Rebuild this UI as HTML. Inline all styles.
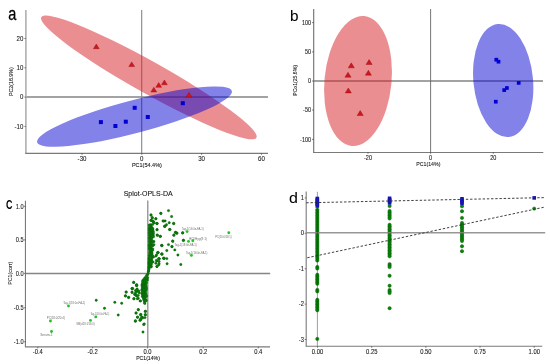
<!DOCTYPE html>
<html><head><meta charset="utf-8"><style>
html,body{margin:0;padding:0;background:#fff;width:550px;height:364px;overflow:hidden;}
svg{display:block;will-change:transform;}
text{font-family:"Liberation Sans",sans-serif;}
</style></head><body>
<svg width="550" height="364" viewBox="0 0 550 364">
<rect width="550" height="364" fill="#fff"/>
<text transform="translate(8.2 19.8) scale(0.8 1)" font-size="18.2" text-anchor="start" font-family="&quot;Liberation Sans&quot;, sans-serif" font-weight="normal" fill="#000" stroke="#000" stroke-width="0.25">a</text>
<line x1="26" y1="97.0" x2="268" y2="97.0" stroke="#858585" stroke-width="1.4"/>
<line x1="141.7" y1="10" x2="141.7" y2="153" stroke="#858585" stroke-width="1.1"/>
<ellipse cx="148.85" cy="77.45" rx="123.3" ry="15.9" transform="rotate(29.27 148.85 77.45)" fill="rgb(213,30,37)" fill-opacity="0.5"/>
<ellipse cx="134.5" cy="116.6" rx="100.7" ry="16.5" transform="rotate(-14.75 134.5 116.6)" fill="rgb(5,5,209)" fill-opacity="0.5"/>
<line x1="25.9" y1="10" x2="25.9" y2="153.3" stroke="#aaa" stroke-width="1.5"/>
<line x1="25.2" y1="153.35" x2="268" y2="153.35" stroke="#7a7a7a" stroke-width="1.1"/>
<path d="M96.30 44.00 L99.20 48.70 L93.40 48.70 Z" fill="#d0161e" stroke="#8a0c10" stroke-width="0.4"/>
<path d="M131.70 61.90 L134.60 66.60 L128.80 66.60 Z" fill="#d0161e" stroke="#8a0c10" stroke-width="0.4"/>
<path d="M153.80 87.30 L156.70 92.00 L150.90 92.00 Z" fill="#d0161e" stroke="#8a0c10" stroke-width="0.4"/>
<path d="M158.70 82.60 L161.60 87.30 L155.80 87.30 Z" fill="#d0161e" stroke="#8a0c10" stroke-width="0.4"/>
<path d="M164.40 80.00 L167.30 84.70 L161.50 84.70 Z" fill="#d0161e" stroke="#8a0c10" stroke-width="0.4"/>
<path d="M189.00 92.30 L191.90 97.00 L186.10 97.00 Z" fill="#d0161e" stroke="#8a0c10" stroke-width="0.4"/>
<rect x="98.90" y="120.10" width="4.0" height="4.0" fill="#0000d4"/>
<rect x="113.40" y="124.00" width="4.0" height="4.0" fill="#0000d4"/>
<rect x="123.80" y="119.70" width="4.0" height="4.0" fill="#0000d4"/>
<rect x="132.70" y="105.80" width="4.0" height="4.0" fill="#0000d4"/>
<rect x="145.80" y="115.00" width="4.0" height="4.0" fill="#0000d4"/>
<rect x="180.80" y="101.20" width="4.0" height="4.0" fill="#0000d4"/>
<text transform="translate(23.4 40.85) scale(0.9 1)" font-size="6.8" text-anchor="end" font-family="&quot;Liberation Sans&quot;, sans-serif" font-weight="normal" fill="#1a1a1a" stroke="#1a1a1a" stroke-width="0.1">20</text>
<line x1="24.4" y1="38.5" x2="25.9" y2="38.5" stroke="#333" stroke-width="0.6"/>
<text transform="translate(23.4 70.14999999999999) scale(0.9 1)" font-size="6.8" text-anchor="end" font-family="&quot;Liberation Sans&quot;, sans-serif" font-weight="normal" fill="#1a1a1a" stroke="#1a1a1a" stroke-width="0.1">10</text>
<line x1="24.4" y1="67.8" x2="25.9" y2="67.8" stroke="#333" stroke-width="0.6"/>
<text transform="translate(23.4 99.44999999999999) scale(0.9 1)" font-size="6.8" text-anchor="end" font-family="&quot;Liberation Sans&quot;, sans-serif" font-weight="normal" fill="#1a1a1a" stroke="#1a1a1a" stroke-width="0.1">0</text>
<line x1="24.4" y1="97.1" x2="25.9" y2="97.1" stroke="#333" stroke-width="0.6"/>
<text transform="translate(23.4 128.75) scale(0.9 1)" font-size="6.8" text-anchor="end" font-family="&quot;Liberation Sans&quot;, sans-serif" font-weight="normal" fill="#1a1a1a" stroke="#1a1a1a" stroke-width="0.1">-10</text>
<line x1="24.4" y1="126.4" x2="25.9" y2="126.4" stroke="#333" stroke-width="0.6"/>
<text transform="translate(82.0 160.7) scale(0.9 1)" font-size="6.8" text-anchor="middle" font-family="&quot;Liberation Sans&quot;, sans-serif" font-weight="normal" fill="#1a1a1a" stroke="#1a1a1a" stroke-width="0.1">-30</text>
<line x1="82.0" y1="153.35" x2="82.0" y2="154.9" stroke="#333" stroke-width="0.6"/>
<text transform="translate(141.8 160.7) scale(0.9 1)" font-size="6.8" text-anchor="middle" font-family="&quot;Liberation Sans&quot;, sans-serif" font-weight="normal" fill="#1a1a1a" stroke="#1a1a1a" stroke-width="0.1">0</text>
<line x1="141.8" y1="153.35" x2="141.8" y2="154.9" stroke="#333" stroke-width="0.6"/>
<text transform="translate(201.6 160.7) scale(0.9 1)" font-size="6.8" text-anchor="middle" font-family="&quot;Liberation Sans&quot;, sans-serif" font-weight="normal" fill="#1a1a1a" stroke="#1a1a1a" stroke-width="0.1">30</text>
<line x1="201.6" y1="153.35" x2="201.6" y2="154.9" stroke="#333" stroke-width="0.6"/>
<text transform="translate(261.4 160.7) scale(0.9 1)" font-size="6.8" text-anchor="middle" font-family="&quot;Liberation Sans&quot;, sans-serif" font-weight="normal" fill="#1a1a1a" stroke="#1a1a1a" stroke-width="0.1">60</text>
<line x1="261.4" y1="153.35" x2="261.4" y2="154.9" stroke="#333" stroke-width="0.6"/>
<text transform="translate(146.9 166.9) scale(0.92 1)" font-size="6.0" text-anchor="middle" font-family="&quot;Liberation Sans&quot;, sans-serif" font-weight="normal" fill="#1a1a1a" stroke="#1a1a1a" stroke-width="0.1">PC1(54.4%)</text>
<text transform="translate(12.6 81.65) rotate(-90) scale(0.96 1)" font-size="5.5" text-anchor="middle" font-family="&quot;Liberation Sans&quot;, sans-serif" font-weight="normal" fill="#1a1a1a" stroke="#1a1a1a" stroke-width="0.1">PC2(16.9%)</text>
<text transform="translate(290.0 20.85) scale(1.0 1)" font-size="15.3" text-anchor="start" font-family="&quot;Liberation Sans&quot;, sans-serif" font-weight="normal" fill="#000" stroke="#000" stroke-width="0.08">b</text>
<line x1="314" y1="81" x2="543" y2="81" stroke="#858585" stroke-width="1.4"/>
<line x1="430.6" y1="9" x2="430.6" y2="152.4" stroke="#666" stroke-width="0.9"/>
<ellipse cx="358" cy="81.0" rx="33.5" ry="65.3" transform="rotate(5.6 358 81.0)" fill="rgb(213,30,37)" fill-opacity="0.5"/>
<ellipse cx="503.2" cy="80.5" rx="29.8" ry="56.8" transform="rotate(-5.5 503.2 80.5)" fill="rgb(5,5,209)" fill-opacity="0.5"/>
<line x1="313.7" y1="9" x2="313.7" y2="152.9" stroke="#6e6e6e" stroke-width="1.1"/>
<line x1="313.2" y1="152.5" x2="543.3" y2="152.5" stroke="#7a7a7a" stroke-width="1.1"/>
<path d="M351.30 62.87 L354.35 67.80 L348.25 67.80 Z" fill="#d0161e" stroke="#8a0c10" stroke-width="0.4"/>
<path d="M369.10 59.57 L372.15 64.50 L366.06 64.50 Z" fill="#d0161e" stroke="#8a0c10" stroke-width="0.4"/>
<path d="M348.00 72.27 L351.05 77.20 L344.95 77.20 Z" fill="#d0161e" stroke="#8a0c10" stroke-width="0.4"/>
<path d="M368.40 70.27 L371.44 75.20 L365.35 75.20 Z" fill="#d0161e" stroke="#8a0c10" stroke-width="0.4"/>
<path d="M348.30 87.97 L351.35 92.91 L345.25 92.91 Z" fill="#d0161e" stroke="#8a0c10" stroke-width="0.4"/>
<path d="M360.20 110.57 L363.25 115.50 L357.15 115.50 Z" fill="#d0161e" stroke="#8a0c10" stroke-width="0.4"/>
<rect x="494.45" y="57.85" width="3.7" height="3.7" fill="#0000d4"/>
<rect x="496.65" y="59.85" width="3.7" height="3.7" fill="#0000d4"/>
<rect x="516.85" y="81.05" width="3.7" height="3.7" fill="#0000d4"/>
<rect x="505.05" y="86.15" width="3.7" height="3.7" fill="#0000d4"/>
<rect x="502.35" y="88.25" width="3.7" height="3.7" fill="#0000d4"/>
<rect x="493.95" y="99.85" width="3.7" height="3.7" fill="#0000d4"/>
<text transform="translate(311 24.950000000000003) scale(0.83 1)" font-size="6.6" text-anchor="end" font-family="&quot;Liberation Sans&quot;, sans-serif" font-weight="normal" fill="#1a1a1a" stroke="#1a1a1a" stroke-width="0.1">100</text>
<line x1="312" y1="22.6" x2="313.7" y2="22.6" stroke="#333" stroke-width="0.6"/>
<text transform="translate(311 54.25) scale(0.83 1)" font-size="6.6" text-anchor="end" font-family="&quot;Liberation Sans&quot;, sans-serif" font-weight="normal" fill="#1a1a1a" stroke="#1a1a1a" stroke-width="0.1">50</text>
<line x1="312" y1="51.9" x2="313.7" y2="51.9" stroke="#333" stroke-width="0.6"/>
<text transform="translate(311 83.35) scale(0.83 1)" font-size="6.6" text-anchor="end" font-family="&quot;Liberation Sans&quot;, sans-serif" font-weight="normal" fill="#1a1a1a" stroke="#1a1a1a" stroke-width="0.1">0</text>
<line x1="312" y1="81.0" x2="313.7" y2="81.0" stroke="#333" stroke-width="0.6"/>
<text transform="translate(311 112.35) scale(0.83 1)" font-size="6.6" text-anchor="end" font-family="&quot;Liberation Sans&quot;, sans-serif" font-weight="normal" fill="#1a1a1a" stroke="#1a1a1a" stroke-width="0.1">-50</text>
<line x1="312" y1="110" x2="313.7" y2="110" stroke="#333" stroke-width="0.6"/>
<text transform="translate(311 141.75) scale(0.83 1)" font-size="6.6" text-anchor="end" font-family="&quot;Liberation Sans&quot;, sans-serif" font-weight="normal" fill="#1a1a1a" stroke="#1a1a1a" stroke-width="0.1">-100</text>
<line x1="312" y1="139.4" x2="313.7" y2="139.4" stroke="#333" stroke-width="0.6"/>
<text transform="translate(368 159.8) scale(0.83 1)" font-size="6.6" text-anchor="middle" font-family="&quot;Liberation Sans&quot;, sans-serif" font-weight="normal" fill="#1a1a1a" stroke="#1a1a1a" stroke-width="0.1">-20</text>
<line x1="368" y1="152.2" x2="368" y2="153.8" stroke="#333" stroke-width="0.6"/>
<text transform="translate(430.6 159.8) scale(0.83 1)" font-size="6.6" text-anchor="middle" font-family="&quot;Liberation Sans&quot;, sans-serif" font-weight="normal" fill="#1a1a1a" stroke="#1a1a1a" stroke-width="0.1">0</text>
<line x1="430.6" y1="152.2" x2="430.6" y2="153.8" stroke="#333" stroke-width="0.6"/>
<text transform="translate(493.3 159.8) scale(0.83 1)" font-size="6.6" text-anchor="middle" font-family="&quot;Liberation Sans&quot;, sans-serif" font-weight="normal" fill="#1a1a1a" stroke="#1a1a1a" stroke-width="0.1">20</text>
<line x1="493.3" y1="152.2" x2="493.3" y2="153.8" stroke="#333" stroke-width="0.6"/>
<text transform="translate(428.3 166.0) scale(0.89 1)" font-size="5.9" text-anchor="middle" font-family="&quot;Liberation Sans&quot;, sans-serif" font-weight="normal" fill="#1a1a1a" stroke="#1a1a1a" stroke-width="0.1">PC1(14%)</text>
<text transform="translate(296.6 80.4) rotate(-90) scale(0.917 1)" font-size="5.6" text-anchor="middle" font-family="&quot;Liberation Sans&quot;, sans-serif" font-weight="normal" fill="#1a1a1a" stroke="#1a1a1a" stroke-width="0.1">PCo1(25.6%)</text>
<text transform="translate(6.0 208.7) scale(0.75 1)" font-size="11.9" text-anchor="start" font-family="&quot;Liberation Sans&quot;, sans-serif" font-weight="bold" fill="#000">C</text>
<text transform="translate(148.2 196.2) scale(1.0 1)" font-size="7" text-anchor="middle" font-family="&quot;Liberation Sans&quot;, sans-serif" font-weight="normal" fill="#111" stroke="#111" stroke-width="0.08">Splot-OPLS-DA</text>
<line x1="25.5" y1="273.45" x2="270.2" y2="273.45" stroke="#858585" stroke-width="1.45"/>
<line x1="147.8" y1="200.5" x2="147.8" y2="346.7" stroke="#858585" stroke-width="1.2"/>
<line x1="25.45" y1="200.8" x2="25.45" y2="346.7" stroke="#7a7a7a" stroke-width="1.1"/>
<line x1="24.9" y1="346.85" x2="270" y2="346.85" stroke="#7a7a7a" stroke-width="1.1"/>
<text transform="translate(23.6 208.6) scale(0.87 1)" font-size="6.5" text-anchor="end" font-family="&quot;Liberation Sans&quot;, sans-serif" font-weight="normal" fill="#1a1a1a" stroke="#1a1a1a" stroke-width="0.1">1.0</text>
<line x1="24.0" y1="206.4" x2="25.45" y2="206.4" stroke="#333" stroke-width="0.6"/>
<text transform="translate(23.6 242.1) scale(0.87 1)" font-size="6.5" text-anchor="end" font-family="&quot;Liberation Sans&quot;, sans-serif" font-weight="normal" fill="#1a1a1a" stroke="#1a1a1a" stroke-width="0.1">0.5</text>
<line x1="24.0" y1="239.9" x2="25.45" y2="239.9" stroke="#333" stroke-width="0.6"/>
<text transform="translate(23.6 275.59999999999997) scale(0.87 1)" font-size="6.5" text-anchor="end" font-family="&quot;Liberation Sans&quot;, sans-serif" font-weight="normal" fill="#1a1a1a" stroke="#1a1a1a" stroke-width="0.1">0.0</text>
<line x1="24.0" y1="273.4" x2="25.45" y2="273.4" stroke="#333" stroke-width="0.6"/>
<text transform="translate(23.6 310.0) scale(0.87 1)" font-size="6.5" text-anchor="end" font-family="&quot;Liberation Sans&quot;, sans-serif" font-weight="normal" fill="#1a1a1a" stroke="#1a1a1a" stroke-width="0.1">-0.5</text>
<line x1="24.0" y1="307.8" x2="25.45" y2="307.8" stroke="#333" stroke-width="0.6"/>
<text transform="translate(23.6 344.0) scale(0.87 1)" font-size="6.5" text-anchor="end" font-family="&quot;Liberation Sans&quot;, sans-serif" font-weight="normal" fill="#1a1a1a" stroke="#1a1a1a" stroke-width="0.1">-1.0</text>
<line x1="24.0" y1="341.8" x2="25.45" y2="341.8" stroke="#333" stroke-width="0.6"/>
<text transform="translate(37.8 353.8) scale(0.87 1)" font-size="6.7" text-anchor="middle" font-family="&quot;Liberation Sans&quot;, sans-serif" font-weight="normal" fill="#1a1a1a" stroke="#1a1a1a" stroke-width="0.1">-0.4</text>
<line x1="37.8" y1="346.85" x2="37.8" y2="348.4" stroke="#333" stroke-width="0.6"/>
<text transform="translate(92.6 353.8) scale(0.87 1)" font-size="6.7" text-anchor="middle" font-family="&quot;Liberation Sans&quot;, sans-serif" font-weight="normal" fill="#1a1a1a" stroke="#1a1a1a" stroke-width="0.1">-0.2</text>
<line x1="92.6" y1="346.85" x2="92.6" y2="348.4" stroke="#333" stroke-width="0.6"/>
<text transform="translate(147.5 353.8) scale(0.87 1)" font-size="6.7" text-anchor="middle" font-family="&quot;Liberation Sans&quot;, sans-serif" font-weight="normal" fill="#1a1a1a" stroke="#1a1a1a" stroke-width="0.1">0.0</text>
<line x1="147.5" y1="346.85" x2="147.5" y2="348.4" stroke="#333" stroke-width="0.6"/>
<text transform="translate(203.2 353.8) scale(0.87 1)" font-size="6.7" text-anchor="middle" font-family="&quot;Liberation Sans&quot;, sans-serif" font-weight="normal" fill="#1a1a1a" stroke="#1a1a1a" stroke-width="0.1">0.2</text>
<line x1="203.2" y1="346.85" x2="203.2" y2="348.4" stroke="#333" stroke-width="0.6"/>
<text transform="translate(258.3 353.8) scale(0.87 1)" font-size="6.7" text-anchor="middle" font-family="&quot;Liberation Sans&quot;, sans-serif" font-weight="normal" fill="#1a1a1a" stroke="#1a1a1a" stroke-width="0.1">0.4</text>
<line x1="258.3" y1="346.85" x2="258.3" y2="348.4" stroke="#333" stroke-width="0.6"/>
<text transform="translate(148 360.4) scale(0.92 1)" font-size="5.6" text-anchor="middle" font-family="&quot;Liberation Sans&quot;, sans-serif" font-weight="normal" fill="#1a1a1a" stroke="#1a1a1a" stroke-width="0.1">PC1(14%)</text>
<text transform="translate(11.7 273.3) rotate(-90) scale(1.0 1)" font-size="5.3" text-anchor="middle" font-family="&quot;Liberation Sans&quot;, sans-serif" font-weight="normal" fill="#1a1a1a" stroke="#1a1a1a" stroke-width="0.05">PC1(corr)</text>
<circle cx="168.5" cy="210.6" r="1.20" fill="#068006" stroke="#0b550b" stroke-width="0.35"/>
<circle cx="160.8" cy="213.3" r="1.20" fill="#068006" stroke="#0b550b" stroke-width="0.35"/>
<circle cx="171.6" cy="216.5" r="1.20" fill="#068006" stroke="#0b550b" stroke-width="0.35"/>
<circle cx="155.8" cy="218.8" r="1.20" fill="#068006" stroke="#0b550b" stroke-width="0.35"/>
<circle cx="163" cy="220.9" r="1.20" fill="#068006" stroke="#0b550b" stroke-width="0.35"/>
<circle cx="165.1" cy="220.9" r="1.20" fill="#068006" stroke="#0b550b" stroke-width="0.35"/>
<circle cx="156.9" cy="223.4" r="1.20" fill="#068006" stroke="#0b550b" stroke-width="0.35"/>
<circle cx="169.2" cy="222.7" r="1.20" fill="#068006" stroke="#0b550b" stroke-width="0.35"/>
<circle cx="173.6" cy="223.4" r="1.20" fill="#068006" stroke="#0b550b" stroke-width="0.35"/>
<circle cx="166.5" cy="224.7" r="1.20" fill="#068006" stroke="#0b550b" stroke-width="0.35"/>
<circle cx="165.1" cy="226.1" r="1.20" fill="#068006" stroke="#0b550b" stroke-width="0.35"/>
<circle cx="157.1" cy="229.5" r="1.20" fill="#068006" stroke="#0b550b" stroke-width="0.35"/>
<circle cx="169.5" cy="229.5" r="1.20" fill="#068006" stroke="#0b550b" stroke-width="0.35"/>
<circle cx="175.4" cy="232.3" r="1.20" fill="#068006" stroke="#0b550b" stroke-width="0.35"/>
<circle cx="176.8" cy="233.2" r="1.20" fill="#068006" stroke="#0b550b" stroke-width="0.35"/>
<circle cx="182.6" cy="233" r="1.20" fill="#068006" stroke="#0b550b" stroke-width="0.35"/>
<circle cx="174" cy="235" r="1.20" fill="#068006" stroke="#0b550b" stroke-width="0.35"/>
<circle cx="157.1" cy="235" r="1.20" fill="#068006" stroke="#0b550b" stroke-width="0.35"/>
<circle cx="160.3" cy="236.4" r="1.20" fill="#068006" stroke="#0b550b" stroke-width="0.35"/>
<circle cx="183.4" cy="240.2" r="1.20" fill="#068006" stroke="#0b550b" stroke-width="0.35"/>
<circle cx="172.7" cy="240.9" r="1.20" fill="#068006" stroke="#0b550b" stroke-width="0.35"/>
<circle cx="168.5" cy="244.6" r="1.20" fill="#068006" stroke="#0b550b" stroke-width="0.35"/>
<circle cx="161.7" cy="245.3" r="1.20" fill="#068006" stroke="#0b550b" stroke-width="0.35"/>
<circle cx="172" cy="246.7" r="1.20" fill="#068006" stroke="#0b550b" stroke-width="0.35"/>
<circle cx="151" cy="215" r="1.20" fill="#068006" stroke="#0b550b" stroke-width="0.35"/>
<circle cx="152.2" cy="217.7" r="1.20" fill="#068006" stroke="#0b550b" stroke-width="0.35"/>
<circle cx="151.1" cy="220.2" r="1.20" fill="#068006" stroke="#0b550b" stroke-width="0.35"/>
<circle cx="152.8" cy="221" r="1.20" fill="#068006" stroke="#0b550b" stroke-width="0.35"/>
<circle cx="153.6" cy="222.1" r="1.20" fill="#068006" stroke="#0b550b" stroke-width="0.35"/>
<circle cx="164.7" cy="226.2" r="1.20" fill="#068006" stroke="#0b550b" stroke-width="0.35"/>
<circle cx="161.8" cy="245.6" r="1.20" fill="#068006" stroke="#0b550b" stroke-width="0.35"/>
<circle cx="158.1" cy="252.6" r="1.20" fill="#068006" stroke="#0b550b" stroke-width="0.35"/>
<circle cx="161.8" cy="253.9" r="1.20" fill="#068006" stroke="#0b550b" stroke-width="0.35"/>
<circle cx="157.5" cy="252.7" r="1.20" fill="#068006" stroke="#0b550b" stroke-width="0.35"/>
<circle cx="161.9" cy="254.2" r="1.20" fill="#068006" stroke="#0b550b" stroke-width="0.35"/>
<circle cx="166.8" cy="250.5" r="1.20" fill="#068006" stroke="#0b550b" stroke-width="0.35"/>
<circle cx="163.5" cy="258.2" r="1.20" fill="#068006" stroke="#0b550b" stroke-width="0.35"/>
<circle cx="166.8" cy="258.6" r="1.20" fill="#068006" stroke="#0b550b" stroke-width="0.35"/>
<circle cx="167.1" cy="263.7" r="1.20" fill="#068006" stroke="#0b550b" stroke-width="0.35"/>
<circle cx="156.4" cy="260.4" r="1.20" fill="#068006" stroke="#0b550b" stroke-width="0.35"/>
<circle cx="159.1" cy="258.8" r="1.20" fill="#068006" stroke="#0b550b" stroke-width="0.35"/>
<circle cx="159.1" cy="261.5" r="1.20" fill="#068006" stroke="#0b550b" stroke-width="0.35"/>
<circle cx="156.9" cy="266.5" r="1.20" fill="#068006" stroke="#0b550b" stroke-width="0.35"/>
<circle cx="159.1" cy="263.7" r="1.20" fill="#068006" stroke="#0b550b" stroke-width="0.35"/>
<circle cx="172.8" cy="241.4" r="1.20" fill="#068006" stroke="#0b550b" stroke-width="0.35"/>
<circle cx="171.9" cy="246.5" r="1.20" fill="#068006" stroke="#0b550b" stroke-width="0.35"/>
<circle cx="174.8" cy="249.9" r="1.20" fill="#068006" stroke="#0b550b" stroke-width="0.35"/>
<circle cx="177.9" cy="255" r="1.20" fill="#068006" stroke="#0b550b" stroke-width="0.35"/>
<circle cx="173.8" cy="223.6" r="1.20" fill="#068006" stroke="#0b550b" stroke-width="0.35"/>
<circle cx="170" cy="229.5" r="1.20" fill="#068006" stroke="#0b550b" stroke-width="0.35"/>
<circle cx="175.7" cy="232.5" r="1.20" fill="#068006" stroke="#0b550b" stroke-width="0.35"/>
<circle cx="177" cy="233.1" r="1.20" fill="#068006" stroke="#0b550b" stroke-width="0.35"/>
<circle cx="182.7" cy="232.7" r="1.20" fill="#068006" stroke="#0b550b" stroke-width="0.35"/>
<circle cx="173.8" cy="235.3" r="1.20" fill="#068006" stroke="#0b550b" stroke-width="0.35"/>
<circle cx="183.4" cy="240.4" r="1.20" fill="#068006" stroke="#0b550b" stroke-width="0.35"/>
<circle cx="133.8" cy="282.4" r="1.20" fill="#068006" stroke="#0b550b" stroke-width="0.35"/>
<circle cx="136.6" cy="285.2" r="1.20" fill="#068006" stroke="#0b550b" stroke-width="0.35"/>
<circle cx="132.7" cy="288.5" r="1.20" fill="#068006" stroke="#0b550b" stroke-width="0.35"/>
<circle cx="137.1" cy="289" r="1.20" fill="#068006" stroke="#0b550b" stroke-width="0.35"/>
<circle cx="133.6" cy="282.4" r="1.20" fill="#068006" stroke="#0b550b" stroke-width="0.35"/>
<circle cx="136.8" cy="285.4" r="1.20" fill="#068006" stroke="#0b550b" stroke-width="0.35"/>
<circle cx="132" cy="288.5" r="1.20" fill="#068006" stroke="#0b550b" stroke-width="0.35"/>
<circle cx="126.2" cy="292" r="1.20" fill="#068006" stroke="#0b550b" stroke-width="0.35"/>
<circle cx="132" cy="292" r="1.20" fill="#068006" stroke="#0b550b" stroke-width="0.35"/>
<circle cx="135.4" cy="290.6" r="1.20" fill="#068006" stroke="#0b550b" stroke-width="0.35"/>
<circle cx="138.2" cy="291.3" r="1.20" fill="#068006" stroke="#0b550b" stroke-width="0.35"/>
<circle cx="134.7" cy="294.5" r="1.20" fill="#068006" stroke="#0b550b" stroke-width="0.35"/>
<circle cx="136.8" cy="295.8" r="1.20" fill="#068006" stroke="#0b550b" stroke-width="0.35"/>
<circle cx="125.4" cy="295.8" r="1.20" fill="#068006" stroke="#0b550b" stroke-width="0.35"/>
<circle cx="128.5" cy="297.5" r="1.20" fill="#068006" stroke="#0b550b" stroke-width="0.35"/>
<circle cx="134" cy="298.8" r="1.20" fill="#068006" stroke="#0b550b" stroke-width="0.35"/>
<circle cx="138.2" cy="298.2" r="1.20" fill="#068006" stroke="#0b550b" stroke-width="0.35"/>
<circle cx="140.2" cy="300.9" r="1.20" fill="#068006" stroke="#0b550b" stroke-width="0.35"/>
<circle cx="114.8" cy="302.3" r="1.20" fill="#068006" stroke="#0b550b" stroke-width="0.35"/>
<circle cx="121.7" cy="303.2" r="1.20" fill="#068006" stroke="#0b550b" stroke-width="0.35"/>
<circle cx="118.2" cy="315" r="1.20" fill="#068006" stroke="#0b550b" stroke-width="0.35"/>
<circle cx="138.4" cy="309.6" r="1.20" fill="#068006" stroke="#0b550b" stroke-width="0.35"/>
<circle cx="136.1" cy="313" r="1.20" fill="#068006" stroke="#0b550b" stroke-width="0.35"/>
<circle cx="140.9" cy="314.4" r="1.20" fill="#068006" stroke="#0b550b" stroke-width="0.35"/>
<circle cx="145.4" cy="311.3" r="1.20" fill="#068006" stroke="#0b550b" stroke-width="0.35"/>
<circle cx="145.4" cy="314.8" r="1.20" fill="#068006" stroke="#0b550b" stroke-width="0.35"/>
<circle cx="137.5" cy="317.2" r="1.20" fill="#068006" stroke="#0b550b" stroke-width="0.35"/>
<circle cx="142.3" cy="317.2" r="1.20" fill="#068006" stroke="#0b550b" stroke-width="0.35"/>
<circle cx="140.5" cy="319.2" r="1.20" fill="#068006" stroke="#0b550b" stroke-width="0.35"/>
<circle cx="139.9" cy="320.3" r="1.20" fill="#068006" stroke="#0b550b" stroke-width="0.35"/>
<circle cx="145" cy="317.6" r="1.20" fill="#068006" stroke="#0b550b" stroke-width="0.35"/>
<circle cx="135.4" cy="321.3" r="1.20" fill="#068006" stroke="#0b550b" stroke-width="0.35"/>
<circle cx="143.7" cy="324.5" r="1.20" fill="#068006" stroke="#0b550b" stroke-width="0.35"/>
<circle cx="143" cy="332" r="1.20" fill="#068006" stroke="#0b550b" stroke-width="0.35"/>
<circle cx="96.2" cy="300.2" r="1.20" fill="#068006" stroke="#0b550b" stroke-width="0.35"/>
<circle cx="104.5" cy="308.2" r="1.20" fill="#068006" stroke="#0b550b" stroke-width="0.35"/>
<circle cx="180.8" cy="264.5" r="1.20" fill="#068006" stroke="#0b550b" stroke-width="0.35"/>
<circle cx="149.4" cy="225.0" r="1.20" fill="#068006" stroke="#0b550b" stroke-width="0.35"/>
<circle cx="150.8" cy="224.8" r="1.20" fill="#068006" stroke="#0b550b" stroke-width="0.35"/>
<circle cx="152.6" cy="224.4" r="1.20" fill="#068006" stroke="#0b550b" stroke-width="0.35"/>
<circle cx="149.5" cy="225.6" r="1.20" fill="#068006" stroke="#0b550b" stroke-width="0.35"/>
<circle cx="151.0" cy="226.0" r="1.20" fill="#068006" stroke="#0b550b" stroke-width="0.35"/>
<circle cx="149.4" cy="227.4" r="1.20" fill="#068006" stroke="#0b550b" stroke-width="0.35"/>
<circle cx="151.8" cy="227.4" r="1.20" fill="#068006" stroke="#0b550b" stroke-width="0.35"/>
<circle cx="149.3" cy="228.9" r="1.20" fill="#068006" stroke="#0b550b" stroke-width="0.35"/>
<circle cx="151.0" cy="228.2" r="1.20" fill="#068006" stroke="#0b550b" stroke-width="0.35"/>
<circle cx="152.6" cy="228.4" r="1.20" fill="#068006" stroke="#0b550b" stroke-width="0.35"/>
<circle cx="149.5" cy="229.9" r="1.20" fill="#068006" stroke="#0b550b" stroke-width="0.35"/>
<circle cx="151.3" cy="229.8" r="1.20" fill="#068006" stroke="#0b550b" stroke-width="0.35"/>
<circle cx="152.8" cy="229.4" r="1.20" fill="#068006" stroke="#0b550b" stroke-width="0.35"/>
<circle cx="149.5" cy="230.9" r="1.20" fill="#068006" stroke="#0b550b" stroke-width="0.35"/>
<circle cx="151.5" cy="231.0" r="1.20" fill="#068006" stroke="#0b550b" stroke-width="0.35"/>
<circle cx="153.2" cy="231.3" r="1.20" fill="#068006" stroke="#0b550b" stroke-width="0.35"/>
<circle cx="149.5" cy="232.3" r="1.20" fill="#068006" stroke="#0b550b" stroke-width="0.35"/>
<circle cx="151.9" cy="232.5" r="1.20" fill="#068006" stroke="#0b550b" stroke-width="0.35"/>
<circle cx="149.3" cy="233.5" r="1.20" fill="#068006" stroke="#0b550b" stroke-width="0.35"/>
<circle cx="151.6" cy="233.2" r="1.20" fill="#068006" stroke="#0b550b" stroke-width="0.35"/>
<circle cx="153.5" cy="233.1" r="1.20" fill="#068006" stroke="#0b550b" stroke-width="0.35"/>
<circle cx="149.5" cy="235.2" r="1.20" fill="#068006" stroke="#0b550b" stroke-width="0.35"/>
<circle cx="151.3" cy="235.0" r="1.20" fill="#068006" stroke="#0b550b" stroke-width="0.35"/>
<circle cx="153.3" cy="234.9" r="1.20" fill="#068006" stroke="#0b550b" stroke-width="0.35"/>
<circle cx="149.7" cy="236.0" r="1.20" fill="#068006" stroke="#0b550b" stroke-width="0.35"/>
<circle cx="151.8" cy="235.6" r="1.20" fill="#068006" stroke="#0b550b" stroke-width="0.35"/>
<circle cx="149.7" cy="237.6" r="1.20" fill="#068006" stroke="#0b550b" stroke-width="0.35"/>
<circle cx="151.4" cy="237.2" r="1.20" fill="#068006" stroke="#0b550b" stroke-width="0.35"/>
<circle cx="153.5" cy="236.8" r="1.20" fill="#068006" stroke="#0b550b" stroke-width="0.35"/>
<circle cx="149.3" cy="238.1" r="1.20" fill="#068006" stroke="#0b550b" stroke-width="0.35"/>
<circle cx="151.6" cy="238.2" r="1.20" fill="#068006" stroke="#0b550b" stroke-width="0.35"/>
<circle cx="149.6" cy="239.4" r="1.20" fill="#068006" stroke="#0b550b" stroke-width="0.35"/>
<circle cx="151.5" cy="239.8" r="1.20" fill="#068006" stroke="#0b550b" stroke-width="0.35"/>
<circle cx="149.6" cy="240.8" r="1.20" fill="#068006" stroke="#0b550b" stroke-width="0.35"/>
<circle cx="151.5" cy="240.9" r="1.20" fill="#068006" stroke="#0b550b" stroke-width="0.35"/>
<circle cx="153.9" cy="241.5" r="1.20" fill="#068006" stroke="#0b550b" stroke-width="0.35"/>
<circle cx="149.4" cy="242.0" r="1.20" fill="#068006" stroke="#0b550b" stroke-width="0.35"/>
<circle cx="151.3" cy="242.4" r="1.20" fill="#068006" stroke="#0b550b" stroke-width="0.35"/>
<circle cx="153.0" cy="241.8" r="1.20" fill="#068006" stroke="#0b550b" stroke-width="0.35"/>
<circle cx="149.5" cy="244.0" r="1.20" fill="#068006" stroke="#0b550b" stroke-width="0.35"/>
<circle cx="151.7" cy="243.6" r="1.20" fill="#068006" stroke="#0b550b" stroke-width="0.35"/>
<circle cx="149.3" cy="245.2" r="1.20" fill="#068006" stroke="#0b550b" stroke-width="0.35"/>
<circle cx="151.6" cy="245.2" r="1.20" fill="#068006" stroke="#0b550b" stroke-width="0.35"/>
<circle cx="153.9" cy="244.7" r="1.20" fill="#068006" stroke="#0b550b" stroke-width="0.35"/>
<circle cx="149.6" cy="245.6" r="1.20" fill="#068006" stroke="#0b550b" stroke-width="0.35"/>
<circle cx="151.0" cy="245.8" r="1.20" fill="#068006" stroke="#0b550b" stroke-width="0.35"/>
<circle cx="152.6" cy="245.9" r="1.20" fill="#068006" stroke="#0b550b" stroke-width="0.35"/>
<circle cx="149.4" cy="246.9" r="1.20" fill="#068006" stroke="#0b550b" stroke-width="0.35"/>
<circle cx="151.2" cy="246.8" r="1.20" fill="#068006" stroke="#0b550b" stroke-width="0.35"/>
<circle cx="149.4" cy="248.3" r="1.20" fill="#068006" stroke="#0b550b" stroke-width="0.35"/>
<circle cx="151.1" cy="248.4" r="1.20" fill="#068006" stroke="#0b550b" stroke-width="0.35"/>
<circle cx="152.7" cy="248.9" r="1.20" fill="#068006" stroke="#0b550b" stroke-width="0.35"/>
<circle cx="149.5" cy="249.4" r="1.20" fill="#068006" stroke="#0b550b" stroke-width="0.35"/>
<circle cx="151.0" cy="249.6" r="1.20" fill="#068006" stroke="#0b550b" stroke-width="0.35"/>
<circle cx="152.7" cy="250.1" r="1.20" fill="#068006" stroke="#0b550b" stroke-width="0.35"/>
<circle cx="149.7" cy="251.1" r="1.20" fill="#068006" stroke="#0b550b" stroke-width="0.35"/>
<circle cx="151.2" cy="251.1" r="1.20" fill="#068006" stroke="#0b550b" stroke-width="0.35"/>
<circle cx="149.7" cy="252.7" r="1.20" fill="#068006" stroke="#0b550b" stroke-width="0.35"/>
<circle cx="151.9" cy="252.1" r="1.20" fill="#068006" stroke="#0b550b" stroke-width="0.35"/>
<circle cx="149.6" cy="253.6" r="1.20" fill="#068006" stroke="#0b550b" stroke-width="0.35"/>
<circle cx="151.9" cy="253.4" r="1.20" fill="#068006" stroke="#0b550b" stroke-width="0.35"/>
<circle cx="149.6" cy="255.2" r="1.20" fill="#068006" stroke="#0b550b" stroke-width="0.35"/>
<circle cx="151.9" cy="255.1" r="1.20" fill="#068006" stroke="#0b550b" stroke-width="0.35"/>
<circle cx="149.4" cy="255.9" r="1.20" fill="#068006" stroke="#0b550b" stroke-width="0.35"/>
<circle cx="150.8" cy="255.6" r="1.20" fill="#068006" stroke="#0b550b" stroke-width="0.35"/>
<circle cx="152.5" cy="255.8" r="1.20" fill="#068006" stroke="#0b550b" stroke-width="0.35"/>
<circle cx="149.3" cy="257.7" r="1.20" fill="#068006" stroke="#0b550b" stroke-width="0.35"/>
<circle cx="151.7" cy="257.8" r="1.20" fill="#068006" stroke="#0b550b" stroke-width="0.35"/>
<circle cx="153.5" cy="257.0" r="1.20" fill="#068006" stroke="#0b550b" stroke-width="0.35"/>
<circle cx="149.1" cy="258.7" r="1.20" fill="#068006" stroke="#0b550b" stroke-width="0.35"/>
<circle cx="151.5" cy="258.9" r="1.20" fill="#068006" stroke="#0b550b" stroke-width="0.35"/>
<circle cx="149.2" cy="259.4" r="1.20" fill="#068006" stroke="#0b550b" stroke-width="0.35"/>
<circle cx="151.4" cy="260.2" r="1.20" fill="#068006" stroke="#0b550b" stroke-width="0.35"/>
<circle cx="149.1" cy="260.7" r="1.20" fill="#068006" stroke="#0b550b" stroke-width="0.35"/>
<circle cx="151.3" cy="260.9" r="1.20" fill="#068006" stroke="#0b550b" stroke-width="0.35"/>
<circle cx="149.0" cy="262.2" r="1.20" fill="#068006" stroke="#0b550b" stroke-width="0.35"/>
<circle cx="151.4" cy="262.5" r="1.20" fill="#068006" stroke="#0b550b" stroke-width="0.35"/>
<circle cx="153.0" cy="261.9" r="1.20" fill="#068006" stroke="#0b550b" stroke-width="0.35"/>
<circle cx="149.1" cy="263.2" r="1.20" fill="#068006" stroke="#0b550b" stroke-width="0.35"/>
<circle cx="151.4" cy="264.0" r="1.20" fill="#068006" stroke="#0b550b" stroke-width="0.35"/>
<circle cx="149.0" cy="264.4" r="1.20" fill="#068006" stroke="#0b550b" stroke-width="0.35"/>
<circle cx="150.4" cy="265.3" r="1.20" fill="#068006" stroke="#0b550b" stroke-width="0.35"/>
<circle cx="149.1" cy="266.0" r="1.20" fill="#068006" stroke="#0b550b" stroke-width="0.35"/>
<circle cx="151.4" cy="266.4" r="1.20" fill="#068006" stroke="#0b550b" stroke-width="0.35"/>
<circle cx="148.8" cy="267.0" r="1.20" fill="#068006" stroke="#0b550b" stroke-width="0.35"/>
<circle cx="150.8" cy="267.1" r="1.20" fill="#068006" stroke="#0b550b" stroke-width="0.35"/>
<circle cx="148.9" cy="268.4" r="1.20" fill="#068006" stroke="#0b550b" stroke-width="0.35"/>
<circle cx="148.9" cy="269.7" r="1.20" fill="#068006" stroke="#0b550b" stroke-width="0.35"/>
<circle cx="148.6" cy="271.1" r="1.20" fill="#068006" stroke="#0b550b" stroke-width="0.35"/>
<circle cx="148.3" cy="271.8" r="1.20" fill="#068006" stroke="#0b550b" stroke-width="0.35"/>
<circle cx="148.0" cy="273.8" r="1.20" fill="#068006" stroke="#0b550b" stroke-width="0.35"/>
<circle cx="147.2" cy="274.9" r="1.20" fill="#068006" stroke="#0b550b" stroke-width="0.35"/>
<circle cx="146.5" cy="275.8" r="1.20" fill="#068006" stroke="#0b550b" stroke-width="0.35"/>
<circle cx="145.4" cy="277.4" r="1.20" fill="#068006" stroke="#0b550b" stroke-width="0.35"/>
<circle cx="147.6" cy="277.7" r="1.20" fill="#068006" stroke="#0b550b" stroke-width="0.35"/>
<circle cx="144.3" cy="278.6" r="1.20" fill="#068006" stroke="#0b550b" stroke-width="0.35"/>
<circle cx="146.4" cy="278.5" r="1.20" fill="#068006" stroke="#0b550b" stroke-width="0.35"/>
<circle cx="143.4" cy="280.0" r="1.20" fill="#068006" stroke="#0b550b" stroke-width="0.35"/>
<circle cx="145.7" cy="280.2" r="1.20" fill="#068006" stroke="#0b550b" stroke-width="0.35"/>
<circle cx="147.4" cy="279.9" r="1.20" fill="#068006" stroke="#0b550b" stroke-width="0.35"/>
<circle cx="142.7" cy="280.7" r="1.20" fill="#068006" stroke="#0b550b" stroke-width="0.35"/>
<circle cx="144.6" cy="280.6" r="1.20" fill="#068006" stroke="#0b550b" stroke-width="0.35"/>
<circle cx="146.2" cy="280.6" r="1.20" fill="#068006" stroke="#0b550b" stroke-width="0.35"/>
<circle cx="142.7" cy="282.0" r="1.20" fill="#068006" stroke="#0b550b" stroke-width="0.35"/>
<circle cx="144.9" cy="282.5" r="1.20" fill="#068006" stroke="#0b550b" stroke-width="0.35"/>
<circle cx="146.5" cy="282.7" r="1.20" fill="#068006" stroke="#0b550b" stroke-width="0.35"/>
<circle cx="142.5" cy="283.4" r="1.20" fill="#068006" stroke="#0b550b" stroke-width="0.35"/>
<circle cx="144.5" cy="284.0" r="1.20" fill="#068006" stroke="#0b550b" stroke-width="0.35"/>
<circle cx="142.1" cy="284.8" r="1.20" fill="#068006" stroke="#0b550b" stroke-width="0.35"/>
<circle cx="143.9" cy="284.5" r="1.20" fill="#068006" stroke="#0b550b" stroke-width="0.35"/>
<circle cx="145.6" cy="285.0" r="1.20" fill="#068006" stroke="#0b550b" stroke-width="0.35"/>
<circle cx="142.1" cy="285.6" r="1.20" fill="#068006" stroke="#0b550b" stroke-width="0.35"/>
<circle cx="143.8" cy="286.2" r="1.20" fill="#068006" stroke="#0b550b" stroke-width="0.35"/>
<circle cx="145.8" cy="285.6" r="1.20" fill="#068006" stroke="#0b550b" stroke-width="0.35"/>
<circle cx="142.2" cy="286.9" r="1.20" fill="#068006" stroke="#0b550b" stroke-width="0.35"/>
<circle cx="143.9" cy="286.8" r="1.20" fill="#068006" stroke="#0b550b" stroke-width="0.35"/>
<circle cx="146.2" cy="287.1" r="1.20" fill="#068006" stroke="#0b550b" stroke-width="0.35"/>
<circle cx="142.2" cy="288.9" r="1.20" fill="#068006" stroke="#0b550b" stroke-width="0.35"/>
<circle cx="143.9" cy="288.2" r="1.20" fill="#068006" stroke="#0b550b" stroke-width="0.35"/>
<circle cx="146.3" cy="288.6" r="1.20" fill="#068006" stroke="#0b550b" stroke-width="0.35"/>
<circle cx="141.8" cy="290.0" r="1.20" fill="#068006" stroke="#0b550b" stroke-width="0.35"/>
<circle cx="143.7" cy="289.4" r="1.20" fill="#068006" stroke="#0b550b" stroke-width="0.35"/>
<circle cx="146.1" cy="289.9" r="1.20" fill="#068006" stroke="#0b550b" stroke-width="0.35"/>
<circle cx="142.2" cy="290.6" r="1.20" fill="#068006" stroke="#0b550b" stroke-width="0.35"/>
<circle cx="144.6" cy="291.0" r="1.20" fill="#068006" stroke="#0b550b" stroke-width="0.35"/>
<circle cx="142.4" cy="292.1" r="1.20" fill="#068006" stroke="#0b550b" stroke-width="0.35"/>
<circle cx="143.9" cy="292.3" r="1.20" fill="#068006" stroke="#0b550b" stroke-width="0.35"/>
<circle cx="145.6" cy="291.9" r="1.20" fill="#068006" stroke="#0b550b" stroke-width="0.35"/>
<circle cx="142.2" cy="293.4" r="1.20" fill="#068006" stroke="#0b550b" stroke-width="0.35"/>
<circle cx="143.9" cy="293.8" r="1.20" fill="#068006" stroke="#0b550b" stroke-width="0.35"/>
<circle cx="145.6" cy="293.6" r="1.20" fill="#068006" stroke="#0b550b" stroke-width="0.35"/>
<circle cx="142.2" cy="294.6" r="1.20" fill="#068006" stroke="#0b550b" stroke-width="0.35"/>
<circle cx="143.6" cy="295.0" r="1.20" fill="#068006" stroke="#0b550b" stroke-width="0.35"/>
<circle cx="145.6" cy="294.5" r="1.20" fill="#068006" stroke="#0b550b" stroke-width="0.35"/>
<circle cx="142.4" cy="296.4" r="1.20" fill="#068006" stroke="#0b550b" stroke-width="0.35"/>
<circle cx="144.2" cy="296.0" r="1.20" fill="#068006" stroke="#0b550b" stroke-width="0.35"/>
<circle cx="146.6" cy="295.9" r="1.20" fill="#068006" stroke="#0b550b" stroke-width="0.35"/>
<circle cx="143.2" cy="297.1" r="1.20" fill="#068006" stroke="#0b550b" stroke-width="0.35"/>
<circle cx="145.5" cy="297.5" r="1.20" fill="#068006" stroke="#0b550b" stroke-width="0.35"/>
<circle cx="143.4" cy="298.1" r="1.20" fill="#068006" stroke="#0b550b" stroke-width="0.35"/>
<circle cx="144.9" cy="298.1" r="1.20" fill="#068006" stroke="#0b550b" stroke-width="0.35"/>
<circle cx="143.8" cy="299.4" r="1.20" fill="#068006" stroke="#0b550b" stroke-width="0.35"/>
<circle cx="146.1" cy="300.2" r="1.20" fill="#068006" stroke="#0b550b" stroke-width="0.35"/>
<circle cx="144.1" cy="300.8" r="1.20" fill="#068006" stroke="#0b550b" stroke-width="0.35"/>
<circle cx="146.0" cy="300.7" r="1.20" fill="#068006" stroke="#0b550b" stroke-width="0.35"/>
<circle cx="144.6" cy="302.8" r="1.20" fill="#068006" stroke="#0b550b" stroke-width="0.35"/>
<circle cx="144.8" cy="303.4" r="1.20" fill="#068006" stroke="#0b550b" stroke-width="0.35"/>
<circle cx="151" cy="215" r="1.20" fill="#068006" stroke="#0b550b" stroke-width="0.35"/>
<circle cx="152.3" cy="217.8" r="1.20" fill="#068006" stroke="#0b550b" stroke-width="0.35"/>
<circle cx="155.9" cy="218.7" r="1.20" fill="#068006" stroke="#0b550b" stroke-width="0.35"/>
<circle cx="160.9" cy="213.4" r="1.20" fill="#068006" stroke="#0b550b" stroke-width="0.35"/>
<circle cx="151" cy="220.5" r="1.20" fill="#068006" stroke="#0b550b" stroke-width="0.35"/>
<circle cx="153" cy="221.3" r="1.20" fill="#068006" stroke="#0b550b" stroke-width="0.35"/>
<circle cx="154.1" cy="222.7" r="1.20" fill="#068006" stroke="#0b550b" stroke-width="0.35"/>
<circle cx="157" cy="223.5" r="1.20" fill="#068006" stroke="#0b550b" stroke-width="0.35"/>
<circle cx="163.6" cy="221.1" r="1.20" fill="#068006" stroke="#0b550b" stroke-width="0.35"/>
<circle cx="157" cy="223.6" r="1.20" fill="#068006" stroke="#0b550b" stroke-width="0.35"/>
<circle cx="164.7" cy="226.4" r="1.20" fill="#068006" stroke="#0b550b" stroke-width="0.35"/>
<circle cx="157" cy="229.9" r="1.20" fill="#068006" stroke="#0b550b" stroke-width="0.35"/>
<circle cx="157.6" cy="235.4" r="1.20" fill="#068006" stroke="#0b550b" stroke-width="0.35"/>
<circle cx="160.3" cy="236.3" r="1.20" fill="#068006" stroke="#0b550b" stroke-width="0.35"/>
<circle cx="162" cy="245.6" r="1.20" fill="#068006" stroke="#0b550b" stroke-width="0.35"/>
<circle cx="158.1" cy="252.5" r="1.20" fill="#068006" stroke="#0b550b" stroke-width="0.35"/>
<circle cx="162" cy="253.9" r="1.20" fill="#068006" stroke="#0b550b" stroke-width="0.35"/>
<circle cx="156.5" cy="255" r="1.20" fill="#068006" stroke="#0b550b" stroke-width="0.35"/>
<circle cx="159.2" cy="258.8" r="1.20" fill="#068006" stroke="#0b550b" stroke-width="0.35"/>
<circle cx="164" cy="258.3" r="1.20" fill="#068006" stroke="#0b550b" stroke-width="0.35"/>
<circle cx="157" cy="261" r="1.20" fill="#068006" stroke="#0b550b" stroke-width="0.35"/>
<circle cx="155.9" cy="256.1" r="1.20" fill="#068006" stroke="#0b550b" stroke-width="0.35"/>
<circle cx="158.6" cy="258.8" r="1.20" fill="#068006" stroke="#0b550b" stroke-width="0.35"/>
<circle cx="164.1" cy="258.3" r="1.20" fill="#068006" stroke="#0b550b" stroke-width="0.35"/>
<circle cx="155.9" cy="263.2" r="1.20" fill="#068006" stroke="#0b550b" stroke-width="0.35"/>
<circle cx="158.6" cy="264.9" r="1.20" fill="#068006" stroke="#0b550b" stroke-width="0.35"/>
<circle cx="157" cy="266.5" r="1.20" fill="#068006" stroke="#0b550b" stroke-width="0.35"/>
<circle cx="136.6" cy="284.7" r="1.20" fill="#068006" stroke="#0b550b" stroke-width="0.35"/>
<circle cx="137.2" cy="290.2" r="1.20" fill="#068006" stroke="#0b550b" stroke-width="0.35"/>
<circle cx="136.1" cy="292.4" r="1.20" fill="#068006" stroke="#0b550b" stroke-width="0.35"/>
<circle cx="139.4" cy="292.9" r="1.20" fill="#068006" stroke="#0b550b" stroke-width="0.35"/>
<circle cx="136.5" cy="285.5" r="1.20" fill="#068006" stroke="#0b550b" stroke-width="0.35"/>
<circle cx="132.1" cy="288.8" r="1.20" fill="#068006" stroke="#0b550b" stroke-width="0.35"/>
<circle cx="136.5" cy="290" r="1.20" fill="#068006" stroke="#0b550b" stroke-width="0.35"/>
<circle cx="138.7" cy="291" r="1.20" fill="#068006" stroke="#0b550b" stroke-width="0.35"/>
<circle cx="126.1" cy="292.1" r="1.20" fill="#068006" stroke="#0b550b" stroke-width="0.35"/>
<circle cx="132.1" cy="292.5" r="1.20" fill="#068006" stroke="#0b550b" stroke-width="0.35"/>
<circle cx="134.9" cy="293.8" r="1.20" fill="#068006" stroke="#0b550b" stroke-width="0.35"/>
<circle cx="136" cy="295.4" r="1.20" fill="#068006" stroke="#0b550b" stroke-width="0.35"/>
<circle cx="138.2" cy="295.4" r="1.20" fill="#068006" stroke="#0b550b" stroke-width="0.35"/>
<circle cx="125.5" cy="296" r="1.20" fill="#068006" stroke="#0b550b" stroke-width="0.35"/>
<circle cx="128.8" cy="297.3" r="1.20" fill="#068006" stroke="#0b550b" stroke-width="0.35"/>
<circle cx="133.8" cy="298.7" r="1.20" fill="#068006" stroke="#0b550b" stroke-width="0.35"/>
<circle cx="137.3" cy="298.7" r="1.20" fill="#068006" stroke="#0b550b" stroke-width="0.35"/>
<circle cx="140.4" cy="300.9" r="1.20" fill="#068006" stroke="#0b550b" stroke-width="0.35"/>
<circle cx="138.2" cy="309.7" r="1.20" fill="#068006" stroke="#0b550b" stroke-width="0.35"/>
<circle cx="136" cy="313" r="1.20" fill="#068006" stroke="#0b550b" stroke-width="0.35"/>
<circle cx="145.3" cy="311.4" r="1.20" fill="#068006" stroke="#0b550b" stroke-width="0.35"/>
<circle cx="140.4" cy="314.7" r="1.20" fill="#068006" stroke="#0b550b" stroke-width="0.35"/>
<circle cx="145.3" cy="314.7" r="1.20" fill="#068006" stroke="#0b550b" stroke-width="0.35"/>
<circle cx="137.6" cy="317.1" r="1.20" fill="#068006" stroke="#0b550b" stroke-width="0.35"/>
<circle cx="141.5" cy="317.1" r="1.20" fill="#068006" stroke="#0b550b" stroke-width="0.35"/>
<circle cx="142.6" cy="318" r="1.20" fill="#068006" stroke="#0b550b" stroke-width="0.35"/>
<circle cx="140.4" cy="320" r="1.20" fill="#068006" stroke="#0b550b" stroke-width="0.35"/>
<circle cx="135.4" cy="320.7" r="1.20" fill="#068006" stroke="#0b550b" stroke-width="0.35"/>
<circle cx="144.2" cy="324" r="1.20" fill="#068006" stroke="#0b550b" stroke-width="0.35"/>
<circle cx="187.1" cy="231.6" r="1.45" fill="#22c422"/>
<circle cx="188.5" cy="241.4" r="1.45" fill="#22c422"/>
<circle cx="192.8" cy="240.8" r="1.45" fill="#22c422"/>
<circle cx="191.4" cy="255.4" r="1.45" fill="#22c422"/>
<circle cx="228.8" cy="232.7" r="1.45" fill="#22c422"/>
<circle cx="68.5" cy="306" r="1.45" fill="#22c422"/>
<circle cx="50.4" cy="321" r="1.45" fill="#22c422"/>
<circle cx="51.5" cy="331.5" r="1.45" fill="#22c422"/>
<circle cx="95.7" cy="316.9" r="1.45" fill="#22c422"/>
<circle cx="90.5" cy="320.4" r="1.45" fill="#22c422"/>
<text x="181.7" y="230.2" font-size="2.8" font-family="&quot;Liberation Sans&quot;, sans-serif" fill="#707070" textLength="22" lengthAdjust="spacingAndGlyphs">Tag-1(16:0e-FA-1)</text>
<text x="189.1" y="239.6" font-size="2.8" font-family="&quot;Liberation Sans&quot;, sans-serif" fill="#707070" textLength="17.8" lengthAdjust="spacingAndGlyphs">HCl/Hyg(8:1)</text>
<text x="174.5" y="246.1" font-size="2.8" font-family="&quot;Liberation Sans&quot;, sans-serif" fill="#707070" textLength="22.2" lengthAdjust="spacingAndGlyphs">Tag-1(18:0e-FA-1)</text>
<text x="185.9" y="253.7" font-size="2.8" font-family="&quot;Liberation Sans&quot;, sans-serif" fill="#707070" textLength="21.6" lengthAdjust="spacingAndGlyphs">Tag-1(16:0e-FA-1)</text>
<text x="215.2" y="237.7" font-size="2.8" font-family="&quot;Liberation Sans&quot;, sans-serif" fill="#707070" textLength="16.5" lengthAdjust="spacingAndGlyphs">PC(16:0/18:1)</text>
<text x="63.2" y="304.3" font-size="2.8" font-family="&quot;Liberation Sans&quot;, sans-serif" fill="#707070" textLength="22.1" lengthAdjust="spacingAndGlyphs">Tag-1(18:0e-FA-1)</text>
<text x="46.7" y="319.1" font-size="2.8" font-family="&quot;Liberation Sans&quot;, sans-serif" fill="#707070" textLength="18.2" lengthAdjust="spacingAndGlyphs">PC(18:0/20:4)</text>
<text x="90.4" y="314.5" font-size="2.8" font-family="&quot;Liberation Sans&quot;, sans-serif" fill="#707070" textLength="18.9" lengthAdjust="spacingAndGlyphs">Tag-1(16:0e-FA-1)</text>
<text x="76.3" y="325.0" font-size="2.8" font-family="&quot;Liberation Sans&quot;, sans-serif" fill="#707070" textLength="18.4" lengthAdjust="spacingAndGlyphs">SM(d18:1/16:0)</text>
<text x="40.2" y="335.9" font-size="2.8" font-family="&quot;Liberation Sans&quot;, sans-serif" fill="#707070" textLength="12.3" lengthAdjust="spacingAndGlyphs">Serum-1</text>
<text transform="translate(288.9 203.1) scale(1.04 1)" font-size="15.4" text-anchor="start" font-family="&quot;Liberation Sans&quot;, sans-serif" font-weight="normal" fill="#000" stroke="#000" stroke-width="0.03">d</text>
<line x1="306.2" y1="191.6" x2="306.2" y2="346.3" stroke="#7a7a7a" stroke-width="1.1"/>
<line x1="305.7" y1="346.2" x2="542.3" y2="346.2" stroke="#7a7a7a" stroke-width="1.1"/>
<text transform="translate(304 200.0) scale(0.88 1)" font-size="6.6" text-anchor="end" font-family="&quot;Liberation Sans&quot;, sans-serif" font-weight="normal" fill="#1a1a1a" stroke="#1a1a1a" stroke-width="0.1">1</text>
<line x1="304.7" y1="197.9" x2="306.2" y2="197.9" stroke="#333" stroke-width="0.6"/>
<text transform="translate(304 235.4) scale(0.88 1)" font-size="6.6" text-anchor="end" font-family="&quot;Liberation Sans&quot;, sans-serif" font-weight="normal" fill="#1a1a1a" stroke="#1a1a1a" stroke-width="0.1">0</text>
<line x1="304.7" y1="233.3" x2="306.2" y2="233.3" stroke="#333" stroke-width="0.6"/>
<text transform="translate(304 270.8) scale(0.88 1)" font-size="6.6" text-anchor="end" font-family="&quot;Liberation Sans&quot;, sans-serif" font-weight="normal" fill="#1a1a1a" stroke="#1a1a1a" stroke-width="0.1">-1</text>
<line x1="304.7" y1="268.7" x2="306.2" y2="268.7" stroke="#333" stroke-width="0.6"/>
<text transform="translate(304 306.20000000000005) scale(0.88 1)" font-size="6.6" text-anchor="end" font-family="&quot;Liberation Sans&quot;, sans-serif" font-weight="normal" fill="#1a1a1a" stroke="#1a1a1a" stroke-width="0.1">-2</text>
<line x1="304.7" y1="304.1" x2="306.2" y2="304.1" stroke="#333" stroke-width="0.6"/>
<text transform="translate(304 341.6) scale(0.88 1)" font-size="6.6" text-anchor="end" font-family="&quot;Liberation Sans&quot;, sans-serif" font-weight="normal" fill="#1a1a1a" stroke="#1a1a1a" stroke-width="0.1">-3</text>
<line x1="304.7" y1="339.5" x2="306.2" y2="339.5" stroke="#333" stroke-width="0.6"/>
<text transform="translate(317.5 353.8) scale(0.8 1)" font-size="7.3" text-anchor="middle" font-family="&quot;Liberation Sans&quot;, sans-serif" font-weight="normal" fill="#1a1a1a" stroke="#1a1a1a" stroke-width="0.1">0.00</text>
<line x1="317.5" y1="346.2" x2="317.5" y2="347.8" stroke="#333" stroke-width="0.6"/>
<text transform="translate(371.7 353.8) scale(0.8 1)" font-size="7.3" text-anchor="middle" font-family="&quot;Liberation Sans&quot;, sans-serif" font-weight="normal" fill="#1a1a1a" stroke="#1a1a1a" stroke-width="0.1">0.25</text>
<line x1="371.7" y1="346.2" x2="371.7" y2="347.8" stroke="#333" stroke-width="0.6"/>
<text transform="translate(425.85 353.8) scale(0.8 1)" font-size="7.3" text-anchor="middle" font-family="&quot;Liberation Sans&quot;, sans-serif" font-weight="normal" fill="#1a1a1a" stroke="#1a1a1a" stroke-width="0.1">0.50</text>
<line x1="425.85" y1="346.2" x2="425.85" y2="347.8" stroke="#333" stroke-width="0.6"/>
<text transform="translate(480.0 353.8) scale(0.8 1)" font-size="7.3" text-anchor="middle" font-family="&quot;Liberation Sans&quot;, sans-serif" font-weight="normal" fill="#1a1a1a" stroke="#1a1a1a" stroke-width="0.1">0.75</text>
<line x1="480.0" y1="346.2" x2="480.0" y2="347.8" stroke="#333" stroke-width="0.6"/>
<text transform="translate(534.2 353.8) scale(0.8 1)" font-size="7.3" text-anchor="middle" font-family="&quot;Liberation Sans&quot;, sans-serif" font-weight="normal" fill="#1a1a1a" stroke="#1a1a1a" stroke-width="0.1">1.00</text>
<line x1="534.2" y1="346.2" x2="534.2" y2="347.8" stroke="#333" stroke-width="0.6"/>
<circle cx="317.3" cy="209.6" r="1.7" fill="#088508" stroke="#0b5a0b" stroke-width="0.4"/>
<circle cx="317.3" cy="211.1" r="1.7" fill="#088508" stroke="#0b5a0b" stroke-width="0.4"/>
<circle cx="317.3" cy="212.6" r="1.7" fill="#088508" stroke="#0b5a0b" stroke-width="0.4"/>
<circle cx="317.3" cy="214.1" r="1.7" fill="#088508" stroke="#0b5a0b" stroke-width="0.4"/>
<circle cx="317.3" cy="215.6" r="1.7" fill="#088508" stroke="#0b5a0b" stroke-width="0.4"/>
<circle cx="317.3" cy="217.1" r="1.7" fill="#088508" stroke="#0b5a0b" stroke-width="0.4"/>
<circle cx="317.3" cy="218.6" r="1.7" fill="#088508" stroke="#0b5a0b" stroke-width="0.4"/>
<circle cx="317.3" cy="220.1" r="1.7" fill="#088508" stroke="#0b5a0b" stroke-width="0.4"/>
<circle cx="317.3" cy="221.6" r="1.7" fill="#088508" stroke="#0b5a0b" stroke-width="0.4"/>
<circle cx="317.3" cy="223.1" r="1.7" fill="#088508" stroke="#0b5a0b" stroke-width="0.4"/>
<circle cx="317.3" cy="224.6" r="1.7" fill="#088508" stroke="#0b5a0b" stroke-width="0.4"/>
<circle cx="317.3" cy="226.1" r="1.7" fill="#088508" stroke="#0b5a0b" stroke-width="0.4"/>
<circle cx="317.3" cy="227.6" r="1.7" fill="#088508" stroke="#0b5a0b" stroke-width="0.4"/>
<circle cx="317.3" cy="229.1" r="1.7" fill="#088508" stroke="#0b5a0b" stroke-width="0.4"/>
<circle cx="317.3" cy="230.6" r="1.7" fill="#088508" stroke="#0b5a0b" stroke-width="0.4"/>
<circle cx="317.3" cy="232.1" r="1.7" fill="#088508" stroke="#0b5a0b" stroke-width="0.4"/>
<circle cx="317.3" cy="233.6" r="1.7" fill="#088508" stroke="#0b5a0b" stroke-width="0.4"/>
<circle cx="317.3" cy="235.1" r="1.7" fill="#088508" stroke="#0b5a0b" stroke-width="0.4"/>
<circle cx="317.3" cy="236.6" r="1.7" fill="#088508" stroke="#0b5a0b" stroke-width="0.4"/>
<circle cx="317.3" cy="238.1" r="1.7" fill="#088508" stroke="#0b5a0b" stroke-width="0.4"/>
<circle cx="317.3" cy="239.6" r="1.7" fill="#088508" stroke="#0b5a0b" stroke-width="0.4"/>
<circle cx="317.3" cy="241.1" r="1.7" fill="#088508" stroke="#0b5a0b" stroke-width="0.4"/>
<circle cx="317.3" cy="242.6" r="1.7" fill="#088508" stroke="#0b5a0b" stroke-width="0.4"/>
<circle cx="317.3" cy="244.1" r="1.7" fill="#088508" stroke="#0b5a0b" stroke-width="0.4"/>
<circle cx="317.3" cy="245.6" r="1.7" fill="#088508" stroke="#0b5a0b" stroke-width="0.4"/>
<circle cx="317.3" cy="247.1" r="1.7" fill="#088508" stroke="#0b5a0b" stroke-width="0.4"/>
<circle cx="317.3" cy="248.6" r="1.7" fill="#088508" stroke="#0b5a0b" stroke-width="0.4"/>
<circle cx="317.3" cy="250.1" r="1.7" fill="#088508" stroke="#0b5a0b" stroke-width="0.4"/>
<circle cx="317.3" cy="251.6" r="1.7" fill="#088508" stroke="#0b5a0b" stroke-width="0.4"/>
<circle cx="317.3" cy="253.1" r="1.7" fill="#088508" stroke="#0b5a0b" stroke-width="0.4"/>
<circle cx="317.3" cy="254.6" r="1.7" fill="#088508" stroke="#0b5a0b" stroke-width="0.4"/>
<circle cx="317.3" cy="256.1" r="1.7" fill="#088508" stroke="#0b5a0b" stroke-width="0.4"/>
<circle cx="317.3" cy="257.6" r="1.7" fill="#088508" stroke="#0b5a0b" stroke-width="0.4"/>
<circle cx="317.3" cy="259.1" r="1.7" fill="#088508" stroke="#0b5a0b" stroke-width="0.4"/>
<circle cx="317.3" cy="260.6" r="1.7" fill="#088508" stroke="#0b5a0b" stroke-width="0.4"/>
<circle cx="317.3" cy="267.0" r="1.7" fill="#088508" stroke="#0b5a0b" stroke-width="0.4"/>
<circle cx="317.3" cy="268.5" r="1.7" fill="#088508" stroke="#0b5a0b" stroke-width="0.4"/>
<circle cx="317.3" cy="274.8" r="1.7" fill="#088508" stroke="#0b5a0b" stroke-width="0.4"/>
<circle cx="317.3" cy="276.3" r="1.7" fill="#088508" stroke="#0b5a0b" stroke-width="0.4"/>
<circle cx="317.3" cy="277.8" r="1.7" fill="#088508" stroke="#0b5a0b" stroke-width="0.4"/>
<circle cx="317.3" cy="279.3" r="1.7" fill="#088508" stroke="#0b5a0b" stroke-width="0.4"/>
<circle cx="317.3" cy="280.8" r="1.7" fill="#088508" stroke="#0b5a0b" stroke-width="0.4"/>
<circle cx="317.3" cy="282.3" r="1.7" fill="#088508" stroke="#0b5a0b" stroke-width="0.4"/>
<circle cx="317.3" cy="283.8" r="1.7" fill="#088508" stroke="#0b5a0b" stroke-width="0.4"/>
<circle cx="317.3" cy="289.9" r="1.7" fill="#088508" stroke="#0b5a0b" stroke-width="0.4"/>
<circle cx="317.3" cy="291.4" r="1.7" fill="#088508" stroke="#0b5a0b" stroke-width="0.4"/>
<circle cx="317.3" cy="299.8" r="1.7" fill="#088508" stroke="#0b5a0b" stroke-width="0.4"/>
<circle cx="317.3" cy="301.3" r="1.7" fill="#088508" stroke="#0b5a0b" stroke-width="0.4"/>
<circle cx="317.3" cy="302.8" r="1.7" fill="#088508" stroke="#0b5a0b" stroke-width="0.4"/>
<circle cx="317.3" cy="304.3" r="1.7" fill="#088508" stroke="#0b5a0b" stroke-width="0.4"/>
<circle cx="317.3" cy="305.8" r="1.7" fill="#088508" stroke="#0b5a0b" stroke-width="0.4"/>
<circle cx="317.3" cy="307.3" r="1.7" fill="#088508" stroke="#0b5a0b" stroke-width="0.4"/>
<circle cx="317.3" cy="308.8" r="1.7" fill="#088508" stroke="#0b5a0b" stroke-width="0.4"/>
<circle cx="317.3" cy="310.3" r="1.7" fill="#088508" stroke="#0b5a0b" stroke-width="0.4"/>
<circle cx="317.3" cy="338.9" r="1.7" fill="#088508" stroke="#0b5a0b" stroke-width="0.4"/>
<rect x="315.50" y="196.7" width="3.6" height="3.6" fill="#1414b4"/>
<rect x="315.50" y="198.2" width="3.6" height="3.6" fill="#1414b4"/>
<rect x="315.50" y="199.7" width="3.6" height="3.6" fill="#1414b4"/>
<rect x="315.50" y="201.2" width="3.6" height="3.6" fill="#1414b4"/>
<rect x="315.50" y="202.7" width="3.6" height="3.6" fill="#1414b4"/>
<rect x="315.50" y="204.2" width="3.6" height="3.6" fill="#1414b4"/>
<circle cx="389.6" cy="206.0" r="1.7" fill="#088508" stroke="#0b5a0b" stroke-width="0.4"/>
<circle cx="389.6" cy="211.0" r="1.7" fill="#088508" stroke="#0b5a0b" stroke-width="0.4"/>
<circle cx="389.6" cy="212.5" r="1.7" fill="#088508" stroke="#0b5a0b" stroke-width="0.4"/>
<circle cx="389.6" cy="214.0" r="1.7" fill="#088508" stroke="#0b5a0b" stroke-width="0.4"/>
<circle cx="389.6" cy="215.5" r="1.7" fill="#088508" stroke="#0b5a0b" stroke-width="0.4"/>
<circle cx="389.6" cy="217.0" r="1.7" fill="#088508" stroke="#0b5a0b" stroke-width="0.4"/>
<circle cx="389.6" cy="218.5" r="1.7" fill="#088508" stroke="#0b5a0b" stroke-width="0.4"/>
<circle cx="389.6" cy="224.8" r="1.7" fill="#088508" stroke="#0b5a0b" stroke-width="0.4"/>
<circle cx="389.6" cy="226.3" r="1.7" fill="#088508" stroke="#0b5a0b" stroke-width="0.4"/>
<circle cx="389.6" cy="227.8" r="1.7" fill="#088508" stroke="#0b5a0b" stroke-width="0.4"/>
<circle cx="389.6" cy="229.3" r="1.7" fill="#088508" stroke="#0b5a0b" stroke-width="0.4"/>
<circle cx="389.6" cy="230.8" r="1.7" fill="#088508" stroke="#0b5a0b" stroke-width="0.4"/>
<circle cx="389.6" cy="232.3" r="1.7" fill="#088508" stroke="#0b5a0b" stroke-width="0.4"/>
<circle cx="389.6" cy="233.8" r="1.7" fill="#088508" stroke="#0b5a0b" stroke-width="0.4"/>
<circle cx="389.6" cy="235.3" r="1.7" fill="#088508" stroke="#0b5a0b" stroke-width="0.4"/>
<circle cx="389.6" cy="236.8" r="1.7" fill="#088508" stroke="#0b5a0b" stroke-width="0.4"/>
<circle cx="389.6" cy="238.3" r="1.7" fill="#088508" stroke="#0b5a0b" stroke-width="0.4"/>
<circle cx="389.6" cy="239.8" r="1.7" fill="#088508" stroke="#0b5a0b" stroke-width="0.4"/>
<circle cx="389.6" cy="241.3" r="1.7" fill="#088508" stroke="#0b5a0b" stroke-width="0.4"/>
<circle cx="389.6" cy="242.8" r="1.7" fill="#088508" stroke="#0b5a0b" stroke-width="0.4"/>
<circle cx="389.6" cy="244.3" r="1.7" fill="#088508" stroke="#0b5a0b" stroke-width="0.4"/>
<circle cx="389.6" cy="245.8" r="1.7" fill="#088508" stroke="#0b5a0b" stroke-width="0.4"/>
<circle cx="389.6" cy="247.3" r="1.7" fill="#088508" stroke="#0b5a0b" stroke-width="0.4"/>
<circle cx="389.6" cy="248.8" r="1.7" fill="#088508" stroke="#0b5a0b" stroke-width="0.4"/>
<circle cx="389.6" cy="250.3" r="1.7" fill="#088508" stroke="#0b5a0b" stroke-width="0.4"/>
<circle cx="389.6" cy="251.8" r="1.7" fill="#088508" stroke="#0b5a0b" stroke-width="0.4"/>
<circle cx="389.6" cy="253.3" r="1.7" fill="#088508" stroke="#0b5a0b" stroke-width="0.4"/>
<circle cx="389.6" cy="254.8" r="1.7" fill="#088508" stroke="#0b5a0b" stroke-width="0.4"/>
<circle cx="389.6" cy="256.3" r="1.7" fill="#088508" stroke="#0b5a0b" stroke-width="0.4"/>
<circle cx="389.6" cy="264.1" r="1.7" fill="#088508" stroke="#0b5a0b" stroke-width="0.4"/>
<circle cx="389.6" cy="265.6" r="1.7" fill="#088508" stroke="#0b5a0b" stroke-width="0.4"/>
<circle cx="389.6" cy="267.1" r="1.7" fill="#088508" stroke="#0b5a0b" stroke-width="0.4"/>
<circle cx="389.6" cy="275.8" r="1.7" fill="#088508" stroke="#0b5a0b" stroke-width="0.4"/>
<circle cx="389.6" cy="285.7" r="1.7" fill="#088508" stroke="#0b5a0b" stroke-width="0.4"/>
<circle cx="389.6" cy="290.0" r="1.7" fill="#088508" stroke="#0b5a0b" stroke-width="0.4"/>
<circle cx="389.6" cy="291.5" r="1.7" fill="#088508" stroke="#0b5a0b" stroke-width="0.4"/>
<circle cx="389.6" cy="293.0" r="1.7" fill="#088508" stroke="#0b5a0b" stroke-width="0.4"/>
<circle cx="389.6" cy="308.2" r="1.7" fill="#088508" stroke="#0b5a0b" stroke-width="0.4"/>
<rect x="387.80" y="196.5" width="3.6" height="3.6" fill="#1414b4"/>
<rect x="387.80" y="198.0" width="3.6" height="3.6" fill="#1414b4"/>
<rect x="387.80" y="199.5" width="3.6" height="3.6" fill="#1414b4"/>
<rect x="387.80" y="201.0" width="3.6" height="3.6" fill="#1414b4"/>
<circle cx="462" cy="206.3" r="1.7" fill="#088508" stroke="#0b5a0b" stroke-width="0.4"/>
<circle cx="462" cy="211.2" r="1.7" fill="#088508" stroke="#0b5a0b" stroke-width="0.4"/>
<circle cx="462" cy="217.9" r="1.7" fill="#088508" stroke="#0b5a0b" stroke-width="0.4"/>
<circle cx="462" cy="223.0" r="1.7" fill="#088508" stroke="#0b5a0b" stroke-width="0.4"/>
<circle cx="462" cy="224.5" r="1.7" fill="#088508" stroke="#0b5a0b" stroke-width="0.4"/>
<circle cx="462" cy="226.0" r="1.7" fill="#088508" stroke="#0b5a0b" stroke-width="0.4"/>
<circle cx="462" cy="227.5" r="1.7" fill="#088508" stroke="#0b5a0b" stroke-width="0.4"/>
<circle cx="462" cy="229.0" r="1.7" fill="#088508" stroke="#0b5a0b" stroke-width="0.4"/>
<circle cx="462" cy="230.5" r="1.7" fill="#088508" stroke="#0b5a0b" stroke-width="0.4"/>
<circle cx="462" cy="232.0" r="1.7" fill="#088508" stroke="#0b5a0b" stroke-width="0.4"/>
<circle cx="462" cy="233.5" r="1.7" fill="#088508" stroke="#0b5a0b" stroke-width="0.4"/>
<circle cx="462" cy="235.0" r="1.7" fill="#088508" stroke="#0b5a0b" stroke-width="0.4"/>
<circle cx="462" cy="236.5" r="1.7" fill="#088508" stroke="#0b5a0b" stroke-width="0.4"/>
<circle cx="462" cy="238.0" r="1.7" fill="#088508" stroke="#0b5a0b" stroke-width="0.4"/>
<circle cx="462" cy="239.5" r="1.7" fill="#088508" stroke="#0b5a0b" stroke-width="0.4"/>
<circle cx="462" cy="241.0" r="1.7" fill="#088508" stroke="#0b5a0b" stroke-width="0.4"/>
<circle cx="462" cy="246.3" r="1.7" fill="#088508" stroke="#0b5a0b" stroke-width="0.4"/>
<circle cx="462" cy="251.2" r="1.7" fill="#088508" stroke="#0b5a0b" stroke-width="0.4"/>
<rect x="460.20" y="197.0" width="3.6" height="3.6" fill="#1414b4"/>
<rect x="460.20" y="198.5" width="3.6" height="3.6" fill="#1414b4"/>
<rect x="460.20" y="200.0" width="3.6" height="3.6" fill="#1414b4"/>
<rect x="460.20" y="201.5" width="3.6" height="3.6" fill="#1414b4"/>
<circle cx="534.2" cy="208.6" r="1.7" fill="#088508" stroke="#0b5a0b" stroke-width="0.4"/>
<rect x="532.40" y="196.1" width="3.6" height="3.6" fill="#1414b4"/>
<line x1="306.2" y1="232.8" x2="545.2" y2="232.8" stroke="#858585" stroke-width="1.5" stroke-opacity="0.85"/>
<line x1="317.4" y1="191.8" x2="317.4" y2="345.8" stroke="#333" stroke-width="0.8" stroke-opacity="0.6"/>
<line x1="306.2" y1="202.8" x2="545" y2="197.6" stroke="#2a2a2a" stroke-width="0.9" stroke-dasharray="2.4 1.8" stroke-dashoffset="4.1"/>
<line x1="306.2" y1="258.0" x2="545" y2="207.0" stroke="#2a2a2a" stroke-width="0.9" stroke-dasharray="2.4 1.8" stroke-dashoffset="3.13"/>
</svg>
</body></html>
